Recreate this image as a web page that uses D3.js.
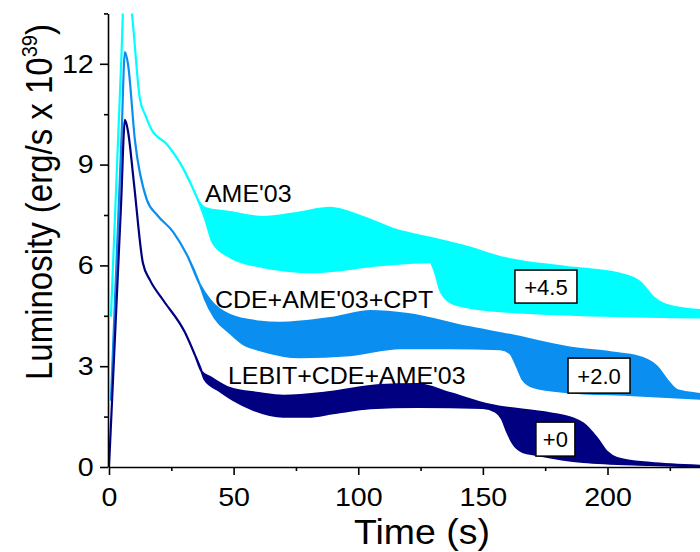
<!DOCTYPE html>
<html>
<head>
<meta charset="utf-8">
<script src="https://cdn.jsdelivr.net/npm/d3@7"></script>
<style>
  body { margin: 0; background: #fff; }
  svg { display: block; }
  text { font-family: "Liberation Sans", Arial, sans-serif; fill: #000; }
</style>
</head>
<body>
<svg id="chart" width="700" height="552"></svg>
<script>
// Axis ticks
const xTicksMajor = [0, 50, 100, 150, 200];
const xTicksMinor = [25, 75, 125, 175, 225];
const yTicksMajor = [0, 3, 6, 9, 12];
const yTicksMinor = [1.5, 4.5, 7.5, 10.5, 13.5];

// Light curves [time (s), luminosity (1e39 erg/s)], upper and lower bounds of each band
const ameUpper = [[0.8,4.5],[3.6,9.67],[5.0,12.25],[6.4,14.83],[9.2,13.48],[12.4,10.95],[14.4,10.5],[17,10.05],[23.3,9.6],[28.5,9.05],[33,8.4],[36.5,7.85],[38.5,7.71],[48.5,7.59],[61.8,7.44],[75.4,7.56],[88.7,7.71],[101.9,7.44],[115.5,7.05],[128.8,6.82],[143.6,6.55],[156.9,6.25],[183.7,5.95],[203.8,5.77],[213,5.51],[218.3,5.06],[223.9,4.82],[237.2,4.67],[240,4.66]];
const ameLower = [[0.8,4.5],[3.6,9.67],[5.0,12.25],[6.4,14.83],[9.2,13.48],[12.4,10.95],[14.4,10.5],[17,10.05],[23.3,9.6],[28.5,9.05],[33,8.4],[36.5,7.8],[38.5,7.4],[41.7,6.67],[48.5,6.25],[61.8,5.95],[81.8,5.8],[108.7,6.01],[128.8,6.1],[130.8,5.8],[132.8,5.27],[136.8,4.91],[143.6,4.76],[170.1,4.58],[240,4.45]];

const cptUpper = [[0.8,2.0],[3.6,7.2],[5.0,9.78],[6.4,12.35],[7.6,12.0],[10.4,9.73],[15.2,7.95],[19.3,7.5],[25.7,7.0],[31.3,6.31],[36.5,5.42],[40.5,4.97],[48.5,4.52],[60,4.33],[68.6,4.29],[88.7,4.43],[105,4.64],[120,4.55],[143.6,4.17],[160.9,3.93],[183.7,3.57],[203.8,3.39],[214.2,3.24],[219.9,2.98],[223.9,2.59],[227.9,2.29],[234.3,2.2],[240,2.15]];
const cptLower = [[0.8,2.0],[3.6,7.2],[5.0,9.78],[6.4,12.35],[7.6,12.0],[10.4,9.73],[15.2,7.95],[19.3,7.5],[25.7,7.0],[31.3,6.31],[36.5,5.42],[38.5,5.0],[42.5,4.43],[48.5,3.99],[54,3.65],[60.6,3.48],[76.6,3.27],[96.7,3.33],[116.7,3.54],[136.8,3.54],[156.9,3.51],[160.9,3.39],[163.7,2.98],[166.1,2.59],[170.1,2.38],[183.7,2.23],[210.2,2.14],[240,2.02]];

const lebitUpper = [[0,0],[3.2,5.17],[4.8,7.75],[6.4,10.33],[7.6,10.0],[10,8.45],[13.6,6.07],[16.4,5.57],[21.7,4.97],[30.5,4.0],[34.5,3.33],[37.3,2.83],[40.5,2.68],[48.5,2.35],[60,2.2],[70,2.12],[88.7,2.23],[108.7,2.44],[123.6,2.47],[136.8,2.2],[152.9,1.85],[176.9,1.6],[186,1.45],[190.2,1.3],[195.8,0.86],[199.8,0.45],[203.8,0.27],[217,0.12],[240,0.03]];
const lebitLower = [[0,0],[3.2,5.17],[4.8,7.75],[6.4,10.33],[7.6,10.0],[10,8.45],[13.6,6.07],[16.4,5.57],[21.7,4.97],[30.5,4.0],[34.5,3.33],[36.5,2.98],[38.5,2.59],[44,2.28],[49.7,2.0],[58,1.7],[69.8,1.5],[80,1.5],[89.9,1.6],[105,1.75],[123.6,1.79],[150,1.76],[155,1.65],[157.5,1.45],[160,1.0],[162,0.71],[166,0.45],[171.7,0.36],[190.2,0.15],[217,0.06],[240,0.01]];

const seriesNames = ["AME'03", "CDE+AME'03+CPT", "LEBIT+CDE+AME'03"];
const seriesColors = ["#00ffff", "#0a8ff0", "#000080"];
const offsetLabels = ["+4.5", "+2.0", "+0"];

const svg = d3.select("#chart");
const x = d3.scaleLinear().domain([0, 240]).range([109, 109 + 240 * 2.4925]);
const y = d3.scaleLinear().domain([0, 13.5]).range([467, 467 - 13.5 * 33.6]);

svg.append("defs").append("clipPath").attr("id", "plotClip")
  .append("rect").attr("x", x(0)).attr("y", y(13.5)).attr("width", 700 - x(0)).attr("height", y(0) - y(13.5));

const line = d3.line().x(d => x(d[0])).y(d => y(d[1])).curve(d3.curveMonotoneX);

// Bands: upper edge forward, lower edge back, closed; edges stroked so narrow parts read as a line
const bands = [[ameUpper, ameLower], [cptUpper, cptLower], [lebitUpper, lebitLower]];
const plot = svg.append("g").attr("clip-path", "url(#plotClip)");
bands.forEach(([up, lo], i) => {
  const upD = line(up);
  const loBack = line(lo.slice().reverse()).replace(/^M/, "L");
  plot.append("path").attr("d", upD + loBack + "Z")
    .attr("fill", seriesColors[i])
    .attr("stroke", seriesColors[i]).attr("stroke-width", 2.2).attr("stroke-linejoin", "round");
});

// Axes
const axisFont = 26, stretch = 1.1;
const gx = svg.append("g").attr("transform", `translate(0,${y(0)})`);
gx.call(d3.axisBottom(x).tickValues(xTicksMajor).tickSize(8).tickSizeOuter(0).tickPadding(13));
gx.append("g").call(d3.axisBottom(x).tickValues(xTicksMinor).tickSize(4).tickSizeOuter(0).tickFormat(""))
  .select(".domain").remove();
gx.selectAll("text").attr("font-size", axisFont).attr("font-family", null).attr("transform", `scale(${stretch},1)`);

const gy = svg.append("g").attr("transform", `translate(${x(0) - 1},0)`);
gy.call(d3.axisLeft(y).tickValues(yTicksMajor).tickSize(8).tickSizeOuter(0).tickPadding(5));
gy.append("g").call(d3.axisLeft(y).tickValues(yTicksMinor).tickSize(4).tickSizeOuter(0).tickFormat(""))
  .select(".domain").remove();
gy.selectAll("text").attr("font-size", axisFont).attr("font-family", null).attr("transform", `scale(${stretch},1)`);

svg.selectAll(".domain, .tick line").attr("stroke", "#000").attr("stroke-width", 1.6);

// Axis titles
svg.append("text").attr("transform", `translate(422,544) scale(1.07,1)`)
  .attr("text-anchor", "middle").attr("font-size", 35).text("Time (s)");

const yt = svg.append("text").attr("transform", `translate(52,380) scale(${stretch},1) rotate(-90)`)
  .attr("font-size", 33);
yt.append("tspan").text("Luminosity (erg/s x 10");
yt.append("tspan").attr("font-size", 20).attr("dy", -14).text("39");
yt.append("tspan").attr("dy", 14).text(")");

// Series labels
const labelPos = [[38.5, 7.89], [42.5, 4.73], [47.7, 2.47]];
seriesNames.forEach((name, i) => {
  svg.append("text").attr("transform", `translate(${x(labelPos[i][0])},${y(labelPos[i][1])}) scale(1.04,1)`)
    .attr("font-size", 24).text(name);
});

// Offset boxes
const boxPos = [[175.3, 5.37, 62, 33], [196.6, 2.72, 62, 35], [179.1, 0.83, 39, 34]];
offsetLabels.forEach((lab, i) => {
  const [t, L, w, h] = boxPos[i];
  const cx = x(t), cy = y(L);
  svg.append("rect").attr("x", cx - w / 2).attr("y", cy - h / 2).attr("width", w).attr("height", h)
    .attr("fill", "#fff").attr("stroke", "#000").attr("stroke-width", 1.5);
  svg.append("text").attr("x", cx).attr("y", cy + 8).attr("text-anchor", "middle").attr("font-size", 22).text(lab);
});
</script>
</body>
</html>
